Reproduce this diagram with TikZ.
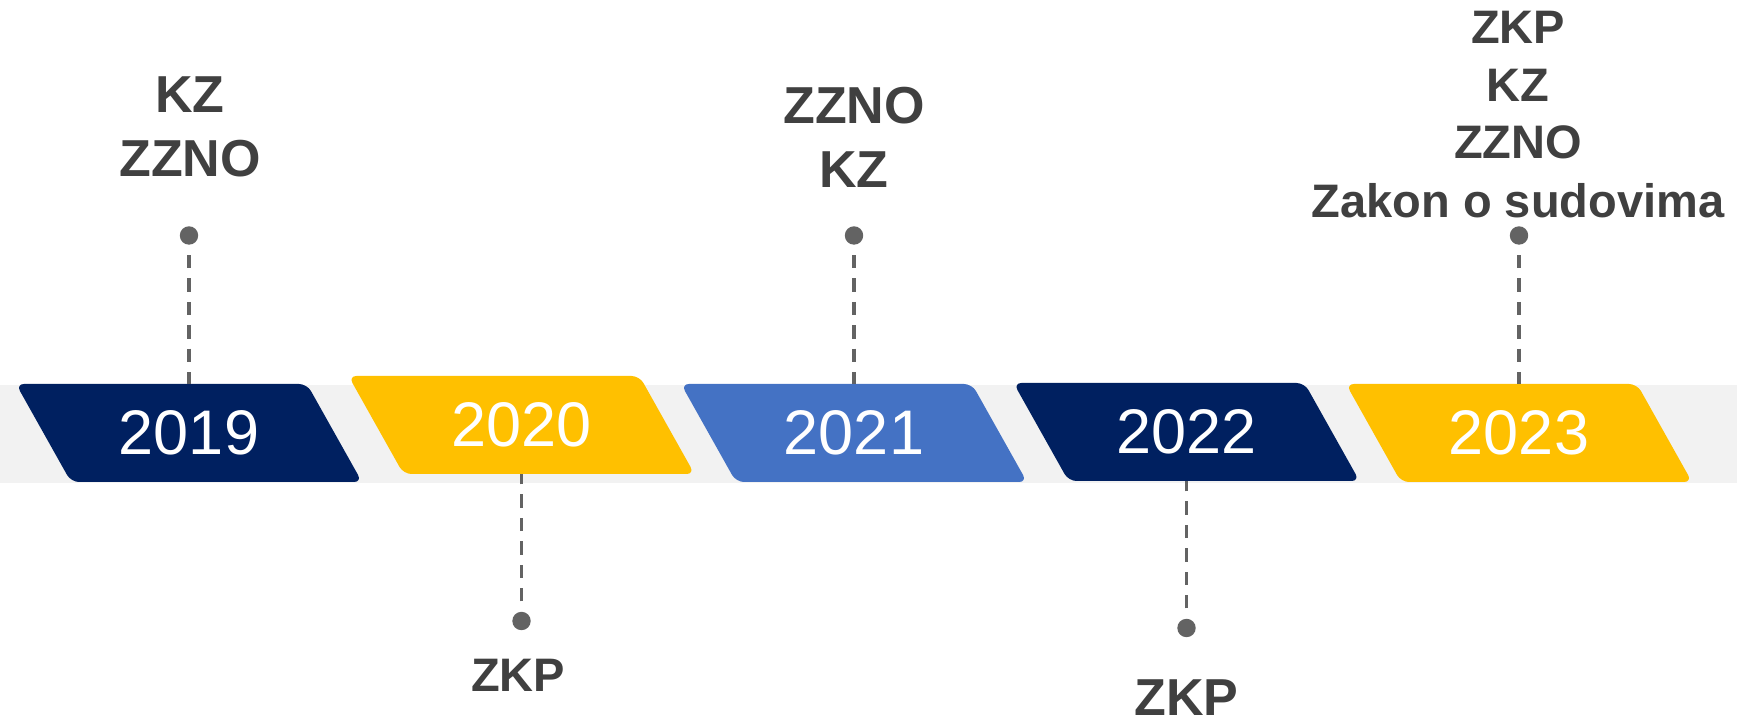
\documentclass[tikz,border=0pt]{standalone}
\usepackage{fontspec}
\setmainfont{Liberation Sans}
\usetikzlibrary{%
    calc,
    positioning
}

\definecolor{navy}{HTML}{002060}
\definecolor{gold}{HTML}{FFC000}
\definecolor{steel}{HTML}{4472C4}
\definecolor{band}{HTML}{F2F2F2}
\definecolor{ink}{HTML}{404040}
\definecolor{pingray}{HTML}{636363}

\tikzset{
    year/.style={text=white, inner sep=0pt,
                 font=\fontsize{31.5}{37}\selectfont},
    law/.style={text=ink, inner sep=0pt,
                font=\bfseries\fontsize{26}{32}\selectfont},
    lawsmall/.style={law, font=\bfseries\fontsize{23.5}{29}\selectfont},
    pin/.style={circle, fill=pingray, minimum size=9.2pt, inner sep=0pt},
    stem/.style={draw=pingray, line width=1.6pt,
                 dash pattern=on 6.7pt off 5pt, shorten <=5pt},
    tab/.style={rounded corners=4pt}
}

\begin{document}
\begin{tikzpicture}[x=0.5pt, y=-0.5pt]
    \useasboundingbox (0,0) rectangle (1737,726);
    \fill[band] (0,385) rectangle (1737,483);

    % year tabs
    \foreach \X/\Top/\Col/\Yr in {%
        16/384/navy/2019,
        348.5/376/gold/2020,
        681/384/steel/2021,
        1013.5/383/navy/2022,
        1346/384/gold/2023%
        }{
        \fill[tab, \Col] (\X,\Top) -- ++(291,0) -- ++(55,98)
                         -- ++(-291,0) -- cycle;
        \node[year] (y\Yr) at ({\X+173},{\Top+49}) {\Yr};
        \coordinate (t\Yr) at ({\X+173},\Top);
        \coordinate (b\Yr) at ({\X+173},{\Top+98});
    }

    % pins
    \node[pin] (d2019) at (189,235.5) {};
    \node[pin] (d2020) at (521.5,621) {};
    \node[pin] (d2021) at (854,235.5) {};
    \node[pin] (d2022) at (1186.5,628) {};
    \node[pin] (d2023) at (1519,235.5) {};

    \foreach \Yr/\Edge in {2019/t, 2020/b, 2021/t, 2022/b, 2023/t}
        \draw[stem] (d\Yr) -- (\Edge\Yr);

    % laws
    \foreach \Txt [count=\i] in {KZ,ZZNO}
        \node[law] (l2019-\i) at (190,{94.5+64*(\i-1)}) {\Txt};
    \foreach \Txt [count=\i] in {ZZNO,KZ}
        \node[law] (l2021-\i) at (854,{106+63.5*(\i-1)}) {\Txt};
    \foreach \Txt [count=\i] in {ZKP,KZ,ZZNO,Zakon o sudovima}
        \node[lawsmall] (l2023-\i) at (1518,{27.8+57.5*(\i-1)}) {\Txt};
    \node[lawsmall] (l2020-1) at (518,675.5) {ZKP};
    \node[law] (l2022-1) at (1186.5,698) {ZKP};
\end{tikzpicture}
\end{document}
